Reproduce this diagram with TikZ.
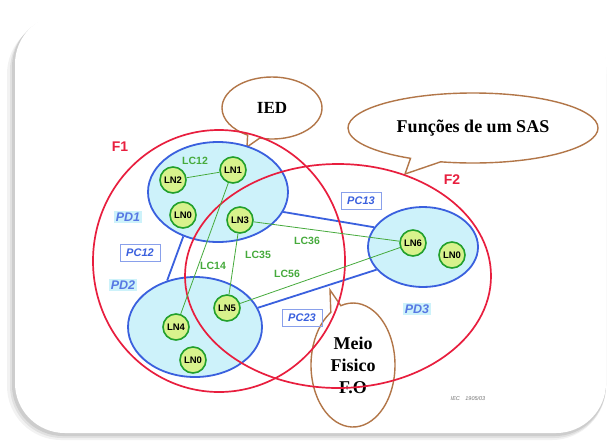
\documentclass[tikz,border=0pt]{standalone}
\usepackage{fontspec}
\setmainfont{Liberation Serif}
\setsansfont{Liberation Sans}
\usetikzlibrary{shapes.geometric,shapes.callouts}
\definecolor{fred}{RGB}{232,30,62}
\definecolor{pdblue}{RGB}{58,96,222}
\definecolor{pdfill}{RGB}{205,242,250}
\definecolor{lngreen}{RGB}{34,160,44}
\definecolor{lnfill}{RGB}{216,242,140}
\definecolor{lcgreen}{RGB}{70,170,60}
\definecolor{bubbrown}{RGB}{178,118,72}
\pgfdeclarelayer{front}
\pgfsetlayers{main,front}
\begin{document}
\begin{tikzpicture}[x=1pt,y=-1pt,
  ln/.style={circle,draw=lngreen,line width=1.6pt,fill=lnfill,minimum size=26pt,inner sep=0pt,font=\sffamily\bfseries\fontsize{9.5}{10}\selectfont},
  pd/.style={ellipse,draw=pdblue,line width=1.8pt,fill=pdfill,inner sep=0pt},
  fn/.style={ellipse,draw=fred,line width=1.7pt,inner sep=0pt},
  lc/.style={draw=lcgreen,line width=0.8pt},
  pc/.style={draw=pdblue,line width=1.8pt},
  lctext/.style={text=lcgreen,font=\sffamily\bfseries\fontsize{10.5}{12}\selectfont},
  pctext/.style={draw=pdblue!60,line width=0.7pt,text=pdblue,font=\sffamily\bfseries\itshape\fontsize{11}{12}\selectfont,minimum width=40pt,minimum height=17pt,inner sep=1pt},
  pdtext/.style={fill=pdfill,text=pdblue!85,font=\sffamily\bfseries\itshape\fontsize{12.5}{14}\selectfont,inner sep=2pt},
  ftext/.style={text=fred,font=\sffamily\bfseries\fontsize{14}{16}\selectfont},
  bubble/.style={ellipse callout,draw=bubbrown,line width=1.4pt,inner sep=0pt,align=center}]
\useasboundingbox (0,0) rectangle (609,440);
% frame with shadow
\fill[black,opacity=0.05,rounded corners=54pt] (7,20) rectangle (606,440);
\fill[black,opacity=0.07,rounded corners=52pt] (10,18) rectangle (606,438);
\fill[black,opacity=0.09,rounded corners=51pt] (12,16) rectangle (606,436);
\fill[white,rounded corners=50pt] (15,14) rectangle (606,433);
% callouts
\node[bubble,minimum width=100pt,minimum height=62pt,callout absolute pointer={(247,147)},font=\bfseries\fontsize{17}{20}\selectfont] (ied) at (272,108) {IED};
\node[bubble,minimum width=250pt,minimum height=70pt,callout absolute pointer={(405,174)},font=\bfseries\fontsize{18}{20}\selectfont] (sas) at (473,128) {Funções de um SAS};
\node[bubble,minimum width=84pt,minimum height=124pt,callout absolute pointer={(330,290)},font=\bfseries\fontsize{18}{22}\selectfont] (meio) at (353,365) {Meio\\Fisico\\F.O};
% physical devices
\node[pd,minimum width=140pt,minimum height=100pt] (pd1) at (218,192) {};
\node[pd,minimum width=134pt,minimum height=100pt] (pd2) at (195,327) {};
\node[pd,minimum width=110pt,minimum height=80pt] (pd3) at (423,247) {};
\draw[pc] (pd1.232) -- (pd2.121);
\draw[pc] (pd1.-17) -- (pd3.158);
\draw[pc] (pd2.17.6) -- (pd3.206.6);
% functions
\node[fn,minimum width=252pt,minimum height=262pt] (f1) at (219,261) {};
\node[fn,minimum width=306pt,minimum height=224pt] (f2) at (338,276) {};
\node[ftext] at (120,147) {F1};
\node[ftext] at (452,180) {F2};
% logical nodes
\begin{pgfonlayer}{front}
\node[ln] (ln1) at (233,170) {LN1};
\node[ln] (ln2) at (173,180) {LN2};
\node[ln] (ln0a) at (183,215) {LN0};
\node[ln] (ln3) at (240,220) {LN3};
\node[ln] (ln4) at (176,327) {LN4};
\node[ln] (ln5) at (227,308) {LN5};
\node[ln] (ln0b) at (193,360) {LN0};
\node[ln] (ln6) at (413,243) {LN6};
\node[ln] (ln0c) at (452,255) {LN0};
\end{pgfonlayer}
\draw[lc] (ln2) -- (ln1);
\draw[lc] (ln1) -- (ln4);
\draw[lc] (ln3) -- (ln5);
\draw[lc] (ln3) -- (ln6);
\draw[lc] (ln5) -- (ln6);
\node[lctext] (lc12) at (195,161) {LC12};
\node[lctext] (lc14) at (213,266) {LC14};
\node[lctext] (lc35) at (258,255) {LC35};
\node[lctext] (lc36) at (307,241) {LC36};
\node[lctext] (lc56) at (287,274) {LC56};
\node[pctext] (pc12) at (140,253) {PC12};
\node[pctext] (pc13) at (361,201) {PC13};
\node[pctext] (pc23) at (302,318) {PC23};
\node[pdtext] (pd1t) at (128,217) {PD1};
\node[pdtext] (pd2t) at (123,285) {PD2};
\node[pdtext] (pd3t) at (417,309) {PD3};
\node[text=black!55,font=\sffamily\itshape\fontsize{5.5}{6}\selectfont] (iec) at (468,399) {IEC\quad 1905/03};
\end{tikzpicture}
\end{document}
